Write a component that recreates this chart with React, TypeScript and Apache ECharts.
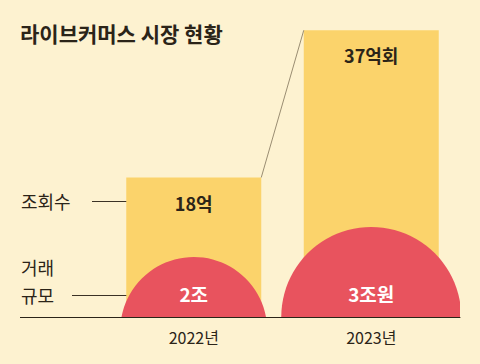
import React, { useEffect, useRef } from 'react';
import * as echarts from 'echarts';

const title = '라이브커머스 시장 현황';
const years = ['2022년', '2023년'];
const views = [18, 37]; // 조회수 (억회)
const viewLabels = ['18억', '37억회'];
const trade = [2, 3]; // 거래 규모 (조원)
const tradeLabels = ['2조', '3조원'];

export default function App() {
  const ref = useRef<HTMLDivElement>(null);
  useEffect(() => {
    document.body.style.margin = '0';
    const chart = echarts.init(ref.current!, null, { renderer: 'svg' });
    const BG = '#fdf2d0';
    const YEL = '#fbd36b';
    const RED = '#e8535e';
    const INK = '#2b2418';
    const BAR_W = 135;
    const FONT = '"Noto Sans CJK KR", "Noto Sans", sans-serif';
    const txt = (text: string, x: number, y: number, font: string) => ({
      type: 'text',
      style: {
        text, x, y, font, fill: INK,
        align: 'left', verticalAlign: 'middle',
        textAlign: 'left', textVerticalAlign: 'middle',
      },
    });
    const ln = (x1: number, y: number, x2: number, color: string, w: number) => ({
      type: 'line',
      shape: { x1, y1: y, x2, y2: y },
      style: { stroke: color, lineWidth: w },
    });
    chart.setOption({
      animation: false,
      backgroundColor: BG,
      grid: { left: 105, right: 20, top: 7, bottom: 47 },
      xAxis: {
        type: 'category',
        data: years,
        axisTick: { show: false },
        axisLine: { lineStyle: { color: INK, width: 1 } },
        axisLabel: { color: INK, fontSize: 16, fontFamily: FONT, margin: 12 },
      },
      yAxis: { type: 'value', min: 0, max: 40, show: false, splitLine: { show: false } },
      graphic: [
        txt(title, 20, 33, `bold 21px ${FONT}`),
        txt('조회수', 21, 201, `18px ${FONT}`),
        txt('거래', 21, 267, `18px ${FONT}`),
        txt('규모', 21, 295, `18px ${FONT}`),
        ln(92, 201.5, 140, '#3b3225', 1),
        ln(72, 295.5, 140, '#3b3225', 1),
        ln(20, 317.5, 106, INK, 1),
      ],
      series: [
        {
          type: 'bar',
          data: views,
          barWidth: BAR_W,
          itemStyle: { color: YEL },
          z: 2,
          label: {
            show: true,
            position: 'insideTop',
            distance: 16,
            formatter: (p: any) => viewLabels[p.dataIndex],
            color: INK,
            fontSize: 18,
            fontWeight: 'bold',
            fontFamily: FONT,
          },
        },
        {
          type: 'custom',
          data: trade.map((v, i) => [i, v]),
          clip: true,
          z: 3,
          renderItem: (params: any, api: any) => {
            const i = api.value(0);
            const v = api.value(1);
            const base = api.coord([i, 0]);
            const r = 90 * Math.sqrt(v / 3);
            const h = 30 * v;
            const drop = r - h;
            const cx = base[0];
            return {
              type: 'group',
              children: [
                { type: 'circle', shape: { cx, cy: base[1] + drop, r }, style: { fill: RED } },
                {
                  type: 'text',
                  style: {
                    text: tradeLabels[params.dataIndex],
                    x: cx, y: base[1] - 24,
                    align: 'center', verticalAlign: 'middle',
                    fill: '#ffffff',
                    font: `bold 19px ${FONT}`,
                  },
                },
              ],
            };
          },
        },
        {
          type: 'custom',
          data: [[0, views[0], 1, views[1]]],
          clip: false,
          z: 4,
          renderItem: (params: any, api: any) => {
            const p1 = api.coord([api.value(0), api.value(1)]);
            const p2 = api.coord([api.value(2), api.value(3)]);
            return {
              type: 'line',
              shape: { x1: p1[0] + BAR_W / 2, y1: p1[1], x2: p2[0] - BAR_W / 2, y2: p2[1] },
              style: { stroke: '#9a8d72', lineWidth: 1 },
            };
          },
        },
      ],
    });
    return () => chart.dispose();
  }, []);
  return (
    <div
      ref={ref}
      style={{ position: 'fixed', left: 0, top: 0, width: 480, height: 364 }}
    />
  );
}
